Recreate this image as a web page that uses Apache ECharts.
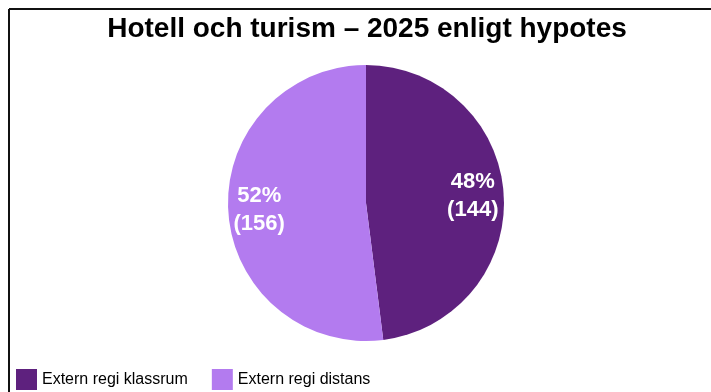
<!DOCTYPE html>
<html>
<head>
<meta charset="utf-8">
<script src="https://cdn.jsdelivr.net/npm/echarts@6/dist/echarts.min.js"></script>
<style>
  html, body { margin: 0; padding: 0; background: #ffffff; }
  #chart { width: 711px; height: 392px; }
</style>
</head>
<body>
<div id="chart"></div>
<script>
// Hotell och turism – fördelning 2025 enligt hypotes
const titleText = 'Hotell och turism – 2025 enligt hypotes';
const categories = ['Extern regi klassrum', 'Extern regi distans'];
const counts = [144, 156];
const percents = [48, 52];
const colors = ['#5e217e', '#b37bef'];

const pieData = categories.map((name, i) => ({
  name: name,
  value: counts[i],
  pct: percents[i],
  itemStyle: { color: colors[i] }
}));

const chart = echarts.init(document.getElementById('chart'), null, { renderer: 'canvas' });

chart.setOption({
  animation: false,
  backgroundColor: '#ffffff',
  title: {
    text: titleText,
    left: 362,
    textAlign: 'center',
    top: 10,
    textStyle: {
      fontFamily: 'Liberation Sans, Arial, sans-serif',
      fontSize: 28,
      fontWeight: 'bold',
      color: '#000000'
    }
  },
  legend: {
    data: categories,
    left: 11,
    top: 364,
    orient: 'horizontal',
    itemWidth: 21,
    itemHeight: 21,
    itemGap: 24,
    icon: 'rect',
    selectedMode: false,
    textStyle: {
      fontFamily: 'Liberation Sans, Arial, sans-serif',
      fontSize: 16,
      color: '#000000'
    }
  },
  graphic: [
    // frame around the chart area
    { type: 'line', shape: { x1: 9, y1: 9, x2: 711, y2: 9 }, style: { stroke: '#111', lineWidth: 2 } },
    { type: 'line', shape: { x1: 9, y1: 9, x2: 9, y2: 392 }, style: { stroke: '#111', lineWidth: 2 } }
  ],
  series: [
    {
      type: 'pie',
      center: [366, 203],
      radius: [0, 138],
      startAngle: 90,
      clockwise: true,
      silent: true,
      label: { show: false },
      labelLine: { show: false },
      data: pieData
    },
    {
      // transparent ring used only to place the value labels
      type: 'pie',
      center: [366, 203],
      radius: [70, 138],
      startAngle: 90,
      clockwise: true,
      silent: true,
      label: {
        show: true,
        position: 'inside',
        fontFamily: 'Liberation Sans, Arial, sans-serif',
        fontSize: 22,
        fontWeight: 'bold',
        color: '#ffffff',
        lineHeight: 28,
        formatter: p => p.data.pct + '%\n(' + p.value + ')'
      },
      labelLine: { show: false },
      data: pieData.map(d => ({ name: d.name, value: d.value, pct: d.pct, itemStyle: { color: 'rgba(0,0,0,0)' } }))
    }
  ]
});
</script>
</body>
</html>
